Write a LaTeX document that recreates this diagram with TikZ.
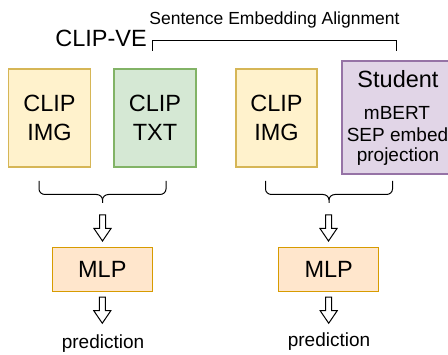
\documentclass[tikz,border=0pt]{standalone}
\usepackage{fontspec}
\setmainfont{Liberation Sans}
\definecolor{imgfill}{HTML}{FFF2CC}
\definecolor{imgdraw}{HTML}{D6B656}
\definecolor{txtfill}{HTML}{D5E8D4}
\definecolor{txtdraw}{HTML}{82B366}
\definecolor{stufill}{HTML}{E1D5E7}
\definecolor{studraw}{HTML}{9673A6}
\definecolor{mlpfill}{HTML}{FFE6CC}
\definecolor{mlpdraw}{HTML}{D79B00}
\newcommand\lblbig{\fontsize{23.5}{28.5}\selectfont}
\newcommand\lblmid{\fontsize{19}{22}\selectfont}
\newcommand\lblsmall{\fontsize{17.5}{21}\selectfont}
\tikzset{
  box/.style={draw, line width=1.1pt, inner sep=0pt, align=center, font=\lblbig},
  imgbox/.style={box, fill=imgfill, draw=imgdraw, minimum width=82pt, minimum height=98pt},
  txtbox/.style={box, fill=txtfill, draw=txtdraw, minimum width=82pt, minimum height=98pt},
  stubox/.style={box, fill=stufill, draw=studraw, minimum width=111pt, minimum height=113pt},
  mlpbox/.style={box, fill=mlpfill, draw=mlpdraw, minimum width=100pt, minimum height=44.4pt},
  lineart/.style={line width=1pt, black},
  hollowdown/.pic={
    \draw[lineart, line join=miter] (-3,0) -- (3,0) -- (3,13.5) -- (8.5,13.5) -- (0,26)
      -- (-8.5,13.5) -- (-3,13.5) -- cycle;
  },
  bracedown/.pic={
    % curly brace opening downwards; origin at the middle tip
    \draw[lineart] (-63.5,-22) -- (-63.5,-14) to[out=-90,in=180] (-57.5,-8.5)
      -- (-6,-8.5) to[out=0,in=90] (0,-3) -- (0,0);
    \draw[lineart] (63.5,-22) -- (63.5,-14) to[out=-90,in=0] (57.5,-8.5)
      -- (6,-8.5) to[out=180,in=90] (0,-3);
  }
}
\begin{document}
\begin{tikzpicture}[x=1pt,y=-1pt]
\useasboundingbox (0,0) rectangle (448,355);
\clip (0,0) rectangle (448,355);

% title and alignment bracket
\node[font=\lblbig, anchor=base, inner sep=0pt] (clipve) at (101,46.7) {CLIP-VE};
\node[font=\lblsmall, anchor=base, inner sep=0pt] (sea) at (274.5,25) {Sentence Embedding Alignment};
\coordinate (brL) at (152.5,50.7);
\coordinate (brR) at (396,50.7);
\draw[lineart] (brL) -- ++(0,-10) -| (brR);

% encoder boxes
\node[imgbox] (img1) at (49.5,118) {CLIP\\IMG};
\node[txtbox] (txt1) at (155,118) {CLIP\\TXT};
\node[imgbox, minimum width=81pt] (img2) at (276.5,118) {CLIP\\IMG};
\node[stubox] (stu) at (397.5,117.5) {};
\node[font=\lblbig, anchor=base, inner sep=0pt] (stuA) at (398,88) {Student};
\node[font=\lblmid, anchor=base, inner sep=0pt] (stuB) at (397,120) {mBERT};
\node[font=\lblmid, anchor=base, inner sep=0pt] (stuC) at (397.5,141.5) {SEP embed};
\node[font=\lblmid, anchor=base, inner sep=0pt] (stuD) at (398,162) {projection};

% braces grouping each pair
\coordinate (tipL) at (102.5,203);
\coordinate (tipR) at (329,203);
\pic at (tipL) {bracedown};
\pic at (tipR) {bracedown};

% heads
\node[mlpbox] (mlp1) at (102.3,269.5) {MLP};
\node[mlpbox] (mlp2) at (328.7,269.5) {MLP};

% block arrows
\pic at (102.5,215) {hollowdown};
\pic at (328.5,215) {hollowdown};
\pic at ([yshift=-5pt]mlp1.south) {hollowdown};
\pic at ([yshift=-5pt]mlp2.south) {hollowdown};

% outputs
\node[font=\lblmid, anchor=base, inner sep=0pt] (pred1) at (103,349) {prediction};
\node[font=\lblmid, anchor=base, inner sep=0pt] (pred2) at (329,347) {prediction};
\end{tikzpicture}
\end{document}
